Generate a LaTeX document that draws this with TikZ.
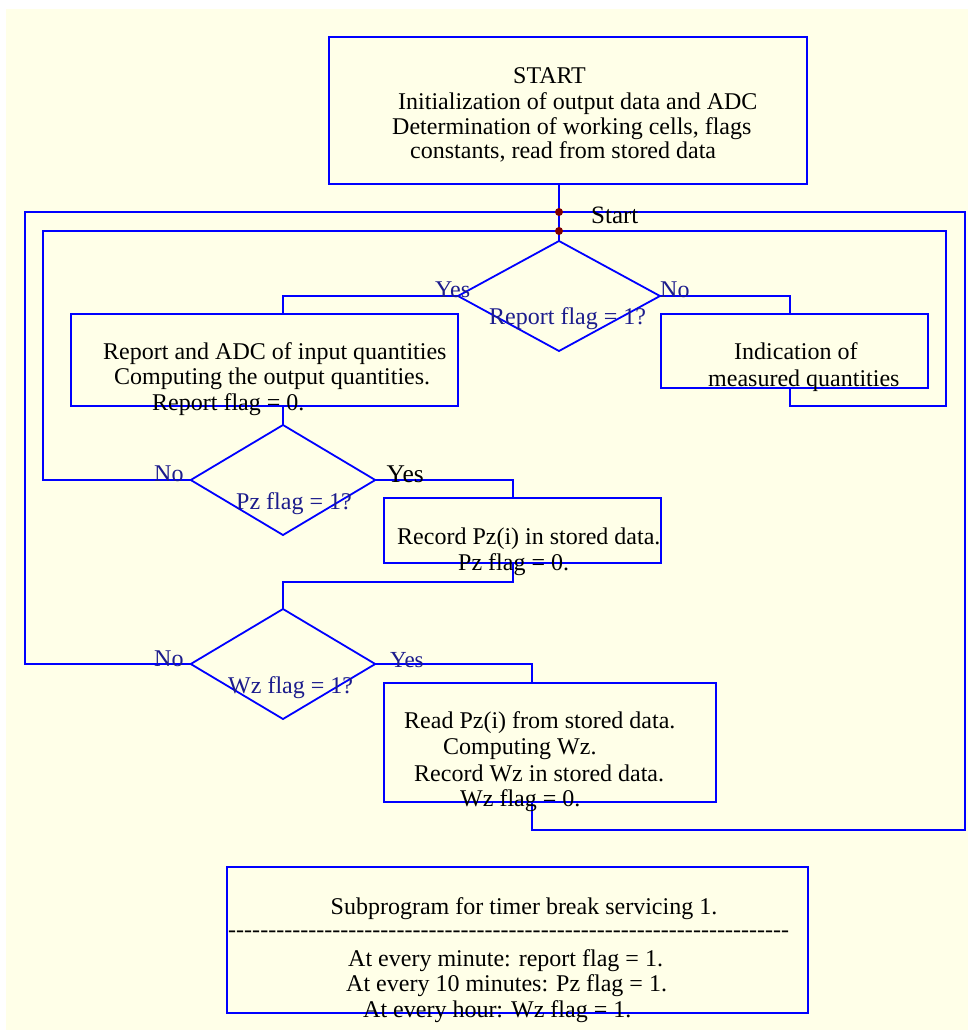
\documentclass[tikz,border=0pt]{standalone}
\usepackage{fontspec}
\setmainfont{Liberation Serif}
\usetikzlibrary{shapes.geometric}
\definecolor{cream}{RGB}{255,255,232}
\definecolor{navy}{RGB}{28,28,140}
\definecolor{dotred}{RGB}{128,0,0}
\newcommand{\hyphenrow}[1]{\hbox to #1{\xleaders\hbox{-}\hfill}}
\begin{document}
\begin{tikzpicture}[x=1pt,y=-1pt,
  line/.style={draw=blue, line width=1.8pt},
  box/.style={draw=blue, line width=1.8pt, rectangle, inner sep=0pt, outer sep=0pt},
  dec/.style={draw=blue, line width=1.8pt, diamond, inner sep=0pt, outer sep=0pt},
  txt/.style={font=\fontsize{24}{25}\selectfont, inner sep=0pt, anchor=base west, text=black},
  qtxt/.style={txt, text=navy},
  dot/.style={circle, fill=dotred, inner sep=0pt, minimum size=8pt}]
\useasboundingbox (0,0) rectangle (968,1031);
\fill[cream] (6,9) rectangle (968,1030);

% boxes
\node[box, minimum width=478pt, minimum height=147pt] (startbox) at (568,110.5) {};
\node[box, minimum width=387pt, minimum height=92pt] (rbox) at (264.5,360) {};
\node[box, minimum width=267pt, minimum height=74pt] (ibox) at (794.5,351) {};
\node[box, minimum width=277pt, minimum height=65pt] (pbox) at (522.5,530.5) {};
\node[box, minimum width=332pt, minimum height=119pt] (wbox) at (550,742.5) {};
\node[box, minimum width=581pt, minimum height=146pt] (sbox) at (517.5,940) {};

% decisions
\node[dec, minimum width=202pt, minimum height=110pt] (d1) at (559,296) {};
\node[dec, minimum width=184.5pt, minimum height=110pt] (d2) at (283,480) {};
\node[dec, minimum width=184.5pt, minimum height=110pt] (d3) at (283,664) {};

% junction and bend coordinates
\coordinate (j1) at (559,212);
\coordinate (j2) at (559,231);
\coordinate (oL) at (25,212);
\coordinate (oR) at (965,212);
\coordinate (iL) at (43,231);
\coordinate (iR) at (946,231);
\coordinate (y1) at (283,296);
\coordinate (n1) at (790,296);
\coordinate (ix) at (790,406);
\coordinate (y2) at (513,480);
\coordinate (p2) at (513,582);
\coordinate (y3) at (532,664);
\coordinate (wx) at (532,830);

% connectors
\draw[line] (startbox.south -| j1) -- (j1) -- (j2) -- (d1.north);
\draw[line] (d1.west) -- (y1) -- (rbox.north -| y1);
\draw[line] (d1.east) -- (n1) -- (ibox.north -| n1);
\draw[line] (ibox.south -| ix) -- (ix) -| (iR) -- (j2);
\draw[line] (rbox.south -| d2.north) -- (d2.north);
\draw[line] (d2.west) -| (iL) -- (j2);
\draw[line] (d2.east) -- (y2) -- (pbox.north -| y2);
\draw[line] (pbox.south -| p2) -- (p2) -| (d3.north);
\draw[line] (d3.west) -| (oL) -- (j1);
\draw[line] (d3.east) -- (y3) -- (wbox.north -| y3);
\draw[line] (wbox.south -| wx) -- (wx) -| (oR) -- (j1);

\node[dot] (dt1) at (j1) {};
\node[dot] (dt2) at (j2) {};

% texts
\node[txt] (s0) at (513,83) {START};
\node[txt] (s1) at (398,109) {Initialization of output data and ADC};
\node[txt] (s2) at (392,134) {Determination of working cells, flags};
\node[txt] (s3) at (410,158.5) {constants, read from stored data};
\node[txt, font=\fontsize{25}{26}\selectfont] (lstart) at (591,223) {Start};

\node[qtxt] (q1) at (489,324) {Report flag = 1?};
\node[qtxt] (yes1) at (435,297) {Yes};
\node[qtxt] (no1) at (660,297) {No};

\node[txt] (r1) at (103,359) {Report and ADC of input quantities};
\node[txt] (r2) at (114,384) {Computing the output quantities.};
\node[txt] (r3) at (152,410) {Report flag = 0.};

\node[txt] (i1) at (734,359) {Indication of};
\node[txt] (i2) at (708,386) {measured quantities};

\node[qtxt] (q2) at (236,509) {Pz flag = 1?};
\node[qtxt] (no2) at (154,481) {No};
\node[txt, font=\fontsize{25.5}{26}\selectfont] (yes2) at (386.5,482) {Yes};
\node[txt] (p1t) at (397,544) {Record Pz(i) in stored data.};
\node[txt] (p2t) at (458,570) {Pz flag = 0.};

\node[qtxt] (q3) at (228,693) {Wz flag = 1?};
\node[qtxt] (no3) at (154,666) {No};
\node[qtxt, font=\fontsize{23}{24}\selectfont] (yes3) at (390,667) {Yes};
\node[txt] (w1) at (404,728.5) {Read Pz(i) from stored data.};
\node[txt] (w2) at (443,754) {Computing Wz.};
\node[txt] (w3) at (414,781) {Record Wz in stored data.};
\node[txt] (w4) at (460,806.5) {Wz flag = 0.};

\node[txt] (t1) at (330.5,914) {Subprogram for timer break servicing 1.};
\node[txt] (t2) at (228,937) {\hyphenrow{561pt}};
\node[txt] (t3) at (348,966) {At every minute: report flag = 1.};
\node[txt] (t4) at (346,991.5) {At every 10 minutes: Pz flag = 1.};
\node[txt] (t5) at (363,1017) {At every hour: Wz flag = 1.};
\end{tikzpicture}
\end{document}
